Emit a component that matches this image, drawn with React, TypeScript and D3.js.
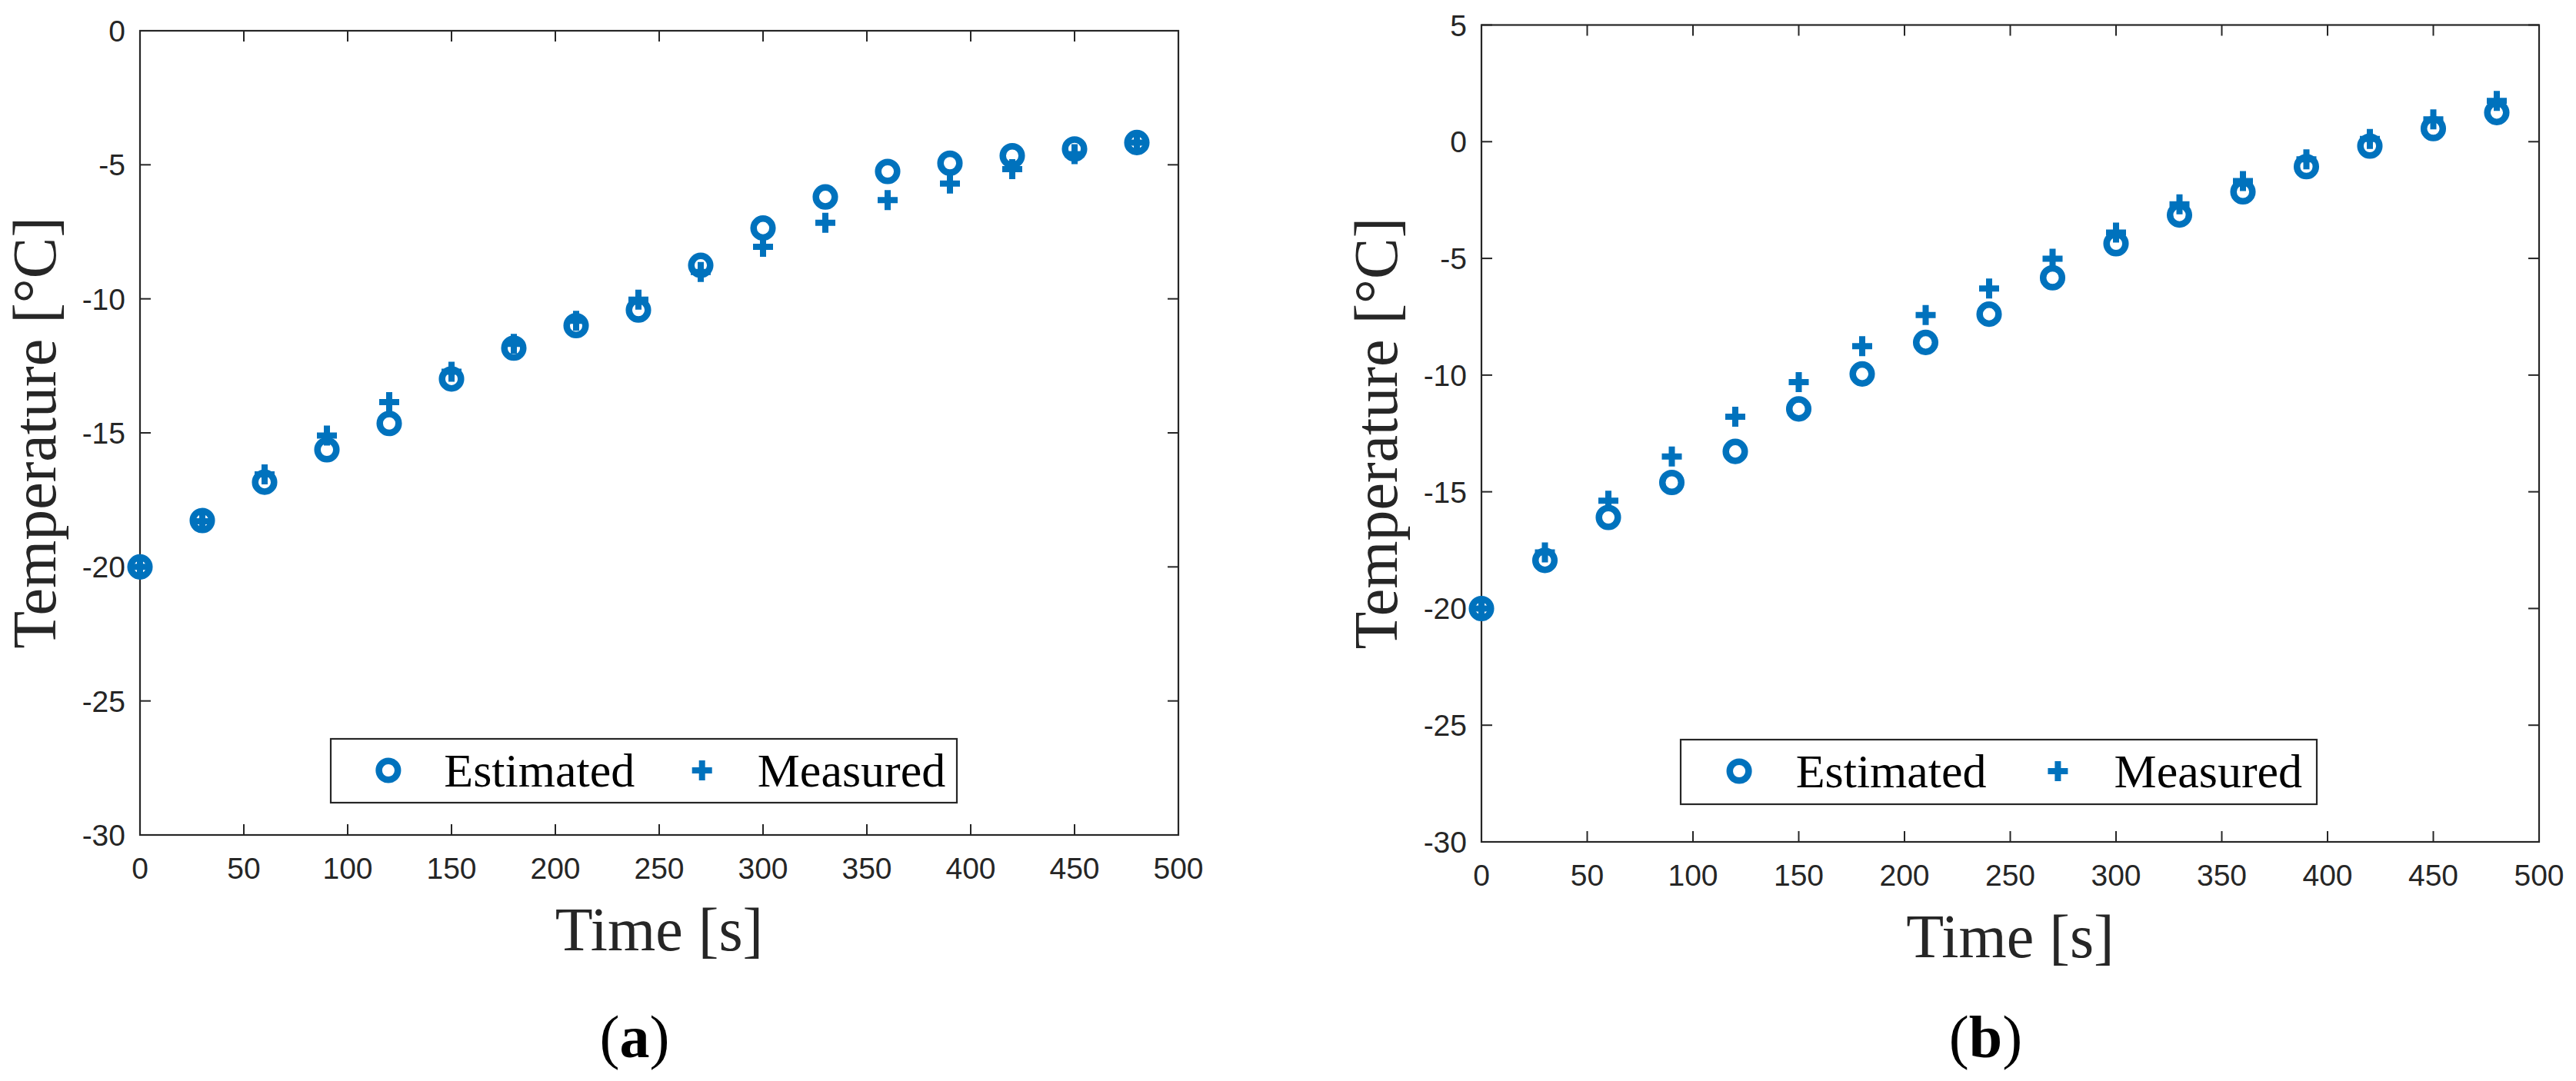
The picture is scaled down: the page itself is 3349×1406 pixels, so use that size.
import React from 'react';
import * as d3 from 'd3';

// sample times [s], shared by both panels
const TIME = [0, 30, 60, 90, 120, 150, 180, 210, 240, 270, 300, 330, 360, 390, 420, 450, 480];

// panel (a)
const EST_A = [-20.0, -18.27, -16.84, -15.63, -14.65, -12.99, -11.84, -11.0, -10.42, -8.75, -7.36, -6.2, -5.25, -4.94, -4.66, -4.41, -4.17];
const MEAS_A = [-20.0, -18.3, -16.55, -15.1, -13.85, -12.72, -11.68, -10.82, -10.03, -9.0, -8.06, -7.16, -6.32, -5.7, -5.16, -4.6, -4.17];

// panel (b)
const EST_B = [-20.0, -17.94, -16.1, -14.6, -13.27, -11.45, -9.95, -8.6, -7.39, -5.83, -4.37, -3.14, -2.15, -1.07, -0.19, 0.56, 1.25];
const MEAS_B = [-20.0, -17.6, -15.38, -13.49, -11.78, -10.3, -8.76, -7.43, -6.29, -5.01, -3.89, -2.68, -1.69, -0.76, 0.12, 0.96, 1.75];

const X_TICKS = [0, 50, 100, 150, 200, 250, 300, 350, 400, 450, 500];
const Y_TICKS_A = [0, -5, -10, -15, -20, -25, -30];
const Y_TICKS_B = [5, 0, -5, -10, -15, -20, -25, -30];

const SERIES_NAMES = ['Estimated', 'Measured'];

const BLUE = '#0072BD';
const AXIS = '#262626';
const SANS = '"Liberation Sans", Arial, sans-serif';
const SERIF = '"Liberation Serif", "Times New Roman", serif';

const Circle = ({ x, y }) => (
  <circle cx={x} cy={y} r={12.3} fill="none" stroke={BLUE} strokeWidth={8.5} />
);

const Plus = ({ x, y }) => (
  <path d={`M${x - 13},${y}H${x + 13}M${x},${y - 13}V${y + 13}`} stroke={BLUE} strokeWidth={8} fill="none" />
);

function Panel({ box, yDomain, yTicks, est, meas, legend, tag }) {
  const x = d3.scaleLinear().domain([0, 500]).range([box.left, box.right]);
  const y = d3.scaleLinear().domain(yDomain).range([box.bottom, box.top]);
  const cx = (box.left + box.right) / 2;
  const cy = (box.top + box.bottom) / 2;
  const tick = 14;
  const lw = legend.w;

  return (
    <g>
      {/* ticks, inward on all four sides */}
      <g stroke={AXIS} strokeWidth={2}>
        {X_TICKS.map(t => (
          <g key={'x' + t}>
            <line x1={x(t)} x2={x(t)} y1={box.bottom} y2={box.bottom - tick} />
            <line x1={x(t)} x2={x(t)} y1={box.top} y2={box.top + tick} />
          </g>
        ))}
        {yTicks.map(t => (
          <g key={'y' + t}>
            <line x1={box.left} x2={box.left + tick} y1={y(t)} y2={y(t)} />
            <line x1={box.right} x2={box.right - tick} y1={y(t)} y2={y(t)} />
          </g>
        ))}
      </g>
      <rect x={box.left} y={box.top} width={box.right - box.left} height={box.bottom - box.top}
        fill="none" stroke={AXIS} strokeWidth={2.2} />

      <g fontFamily={SANS} fontSize={39} fill={AXIS}>
        {X_TICKS.map(t => (
          <text key={'xl' + t} x={x(t)} y={box.bottom + 57} textAnchor="middle">{t}</text>
        ))}
        {yTicks.map(t => (
          <text key={'yl' + t} x={box.left - 19} y={y(t) + 14} textAnchor="end">{t}</text>
        ))}
      </g>

      <text x={cx} y={box.bottom + 150} textAnchor="middle" fontFamily={SERIF} fontSize={80} fill={AXIS}>Time [s]</text>
      <text transform={`translate(${box.left - 110},${cy}) rotate(-90)`} textAnchor="middle"
        fontFamily={SERIF} fontSize={80} fill={AXIS}>Temperature [°C]</text>

      {/* data */}
      {TIME.map((t, i) => <Circle key={'c' + t} x={x(t)} y={y(est[i])} />)}
      {TIME.map((t, i) => <Plus key={'p' + t} x={x(t)} y={y(meas[i])} />)}

      {/* legend */}
      <g>
        <rect x={legend.x} y={legend.y} width={lw} height={legend.h} fill="#fff" stroke={AXIS} strokeWidth={2.2} />
        <Circle x={legend.x + 0.092 * lw} y={legend.y + 41} />
        <text x={legend.x + 0.181 * lw} y={legend.y + 62} fontFamily={SERIF} fontSize={62} fill="#000">{SERIES_NAMES[0]}</text>
        <Plus x={legend.x + 0.593 * lw} y={legend.y + 41} />
        <text x={legend.x + 0.6815 * lw} y={legend.y + 62} fontFamily={SERIF} fontSize={62} fill="#000">{SERIES_NAMES[1]}</text>
      </g>

      <text x={cx - 32} y={1375} textAnchor="middle" fontFamily={SERIF} fontSize={78} fill="#000">
        (<tspan fontWeight="bold">{tag}</tspan>)
      </text>
    </g>
  );
}

export default function App() {
  return (
    <svg width={3349} height={1406} style={{ position: 'absolute', left: 0, top: 0, background: '#fff' }}>
      <rect width={3349} height={1406} fill="#fff" />
      <Panel
        box={{ left: 182, right: 1532, top: 40, bottom: 1086 }}
        yDomain={[-30, 0]} yTicks={Y_TICKS_A}
        est={EST_A} meas={MEAS_A}
        legend={{ x: 430, y: 961, w: 814, h: 83 }}
        tag="a"
      />
      <Panel
        box={{ left: 1926, right: 3301, top: 32.5, bottom: 1095 }}
        yDomain={[-30, 5]} yTicks={Y_TICKS_B}
        est={EST_B} meas={MEAS_B}
        legend={{ x: 2185, y: 962, w: 827, h: 84 }}
        tag="b"
      />
    </svg>
  );
}
